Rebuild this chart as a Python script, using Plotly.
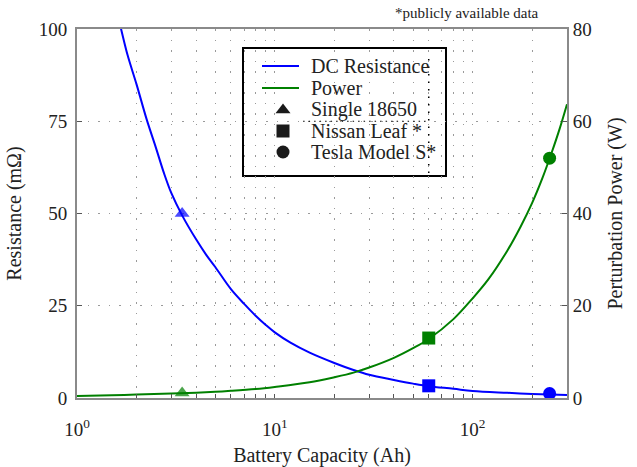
import plotly.graph_objects as go
import numpy as np

# ---------------- data ----------------
capacity_r = [1.6, 1.67, 1.8, 2, 2.25, 2.5, 2.75, 3, 3.4, 4, 4.5, 5, 6, 7, 8, 9, 10, 12, 15,
              20, 25, 30, 40, 50, 60, 80, 100, 150, 200, 300]
resistance = [104, 100, 93, 85, 75.5, 68, 61, 55.5, 49.5, 43, 38.8, 35.5, 29.5, 25.5, 22.3, 19.8,
              17.8, 15, 12.3, 9.5, 7.6, 6.3, 4.9, 3.9, 3.2, 2.5, 1.9, 1.4, 1.1, 0.8]

capacity_p = [1, 1.5, 2, 3, 4, 5, 6, 8, 10, 15, 20, 25, 30, 40, 50, 60, 80, 100, 120, 150,
              175, 200, 225, 250, 275, 300]
power = [0.45, 0.6, 0.75, 0.95, 1.15, 1.35, 1.55, 1.95, 2.4, 3.4, 4.5, 5.5, 6.6, 8.7, 10.8, 12.8,
         17.1, 21.6, 25.7, 32, 37.2, 42.3, 47.6, 53, 58.3, 63.7]

devices = ["Single 18650", "Nissan Leaf *", "Tesla Model S*"]
device_capacity = [3.4, 60, 245]
device_resistance = [50, 3.3, 1.2]
device_power = [1.1, 13.0, 52.0]
device_symbols = ["triangle-up", "square", "circle"]
device_opacity = [0.7, 1.0, 1.0]

series_names = ["DC Resistance", "Power"]

x_major_ticks = [1, 10, 100]
x_major_labels = ["10<sup>0</sup>", "10<sup>1</sup>", "10<sup>2</sup>"]
x_minor_ticks = [2, 3, 4, 5, 6, 7, 8, 9, 20, 30, 40, 50, 60, 70, 80, 90, 200, 300]
y_left_ticks = [0, 25, 50, 75, 100]
y_right_ticks = [0, 20, 40, 60, 80]

BLUE = "#0000FF"
GREEN = "#008000"
FONT = "Liberation Serif"
AXIS_GRAY = "#8a8a8a"
GRID = "#9a9a9a"
TXT = "#222"

# plot area in pixels (for the hand-built legend)
PL, PR, PT, PB = 77, 567, 29, 398
PW, PH = PR - PL, PB - PT


def px(x):
    return (x - PL) / PW


def py(y):
    return (PB - y) / PH


fig = go.Figure()

fig.add_trace(go.Scatter(x=capacity_r, y=resistance, mode="lines", name=series_names[0],
                         line=dict(color=BLUE, width=2, shape="spline", smoothing=1),
                         yaxis="y", showlegend=False))
fig.add_trace(go.Scatter(x=capacity_p, y=power, mode="lines", name=series_names[1],
                         line=dict(color=GREEN, width=2, shape="spline", smoothing=1),
                         yaxis="y2", showlegend=False))

for i, d in enumerate(devices):
    fig.add_trace(go.Scatter(x=[device_capacity[i]], y=[device_resistance[i]], mode="markers",
                             marker=dict(symbol=device_symbols[i], size=13, color=BLUE),
                             opacity=device_opacity[i], showlegend=False, yaxis="y"))
    fig.add_trace(go.Scatter(x=[device_capacity[i]], y=[device_power[i]], mode="markers",
                             marker=dict(symbol=device_symbols[i], size=13, color=GREEN),
                             opacity=device_opacity[i], showlegend=False, yaxis="y2"))

# ---------------- hand-built legend ----------------
LEG_L, LEG_R, LEG_T, LEG_B = 243, 446, 48, 176
row_y = [66, 88, 110, 131, 152]
sample_x0, sample_x1 = 262, 299
symbol_x = 283
text_x = 309

# legend symbols on an invisible pixel-unit overlay axis
fig.add_trace(go.Scatter(x=[symbol_x - PL] * 3, y=[PB - r for r in row_y[2:]], mode="markers",
                         marker=dict(symbol=device_symbols, size=13, color="#1a1a1a"),
                         xaxis="x3", yaxis="y3", showlegend=False, hoverinfo="skip"))

fig.add_shape(type="rect", xref="paper", yref="paper", x0=px(LEG_L), x1=px(LEG_R),
              y0=py(LEG_B), y1=py(LEG_T), fillcolor="white",
              line=dict(color="black", width=2), layer="between")
for c, r in zip([BLUE, GREEN], row_y[:2]):
    fig.add_shape(type="line", xref="paper", yref="paper", x0=px(sample_x0), x1=px(sample_x1),
                  y0=py(r), y1=py(r), line=dict(color=c, width=2), layer="above")
for name, r in zip(series_names + devices, row_y):
    fig.add_annotation(text=name, xref="paper", yref="paper", x=px(text_x), y=py(r),
                       xanchor="left", yanchor="middle", showarrow=False,
                       font=dict(family=FONT, size=20, color=TXT))
# dotted grid fragments visible inside the legend box of the original
fig.add_shape(type="line", xref="x", yref="paper", x0=60, x1=60, y0=py(173), y1=py(56),
              line=dict(color="black", width=1.5, dash="1.5px,6px"), layer="above")
fig.add_shape(type="line", xref="x", yref="y", x0=13.9, x1=60, y0=75, y1=75,
              line=dict(color="black", width=1.2, dash="1.5px,4px"), layer="above")

grid_dash = "1.5px,9px"

fig.update_layout(
    width=637, height=467,
    margin=dict(l=PL, r=637 - PR, t=PT, b=467 - PB, autoexpand=False),
    paper_bgcolor="white", plot_bgcolor="white",
    font=dict(family=FONT, size=19, color=TXT),
    showlegend=False,
    xaxis=dict(type="log", range=[0, np.log10(300)],
               tickmode="array", tickvals=x_major_ticks, ticktext=x_major_labels,
               showgrid=True, gridcolor=GRID, griddash=grid_dash, gridwidth=1,
               minor=dict(tickmode="array", tickvals=x_minor_ticks, showgrid=True,
                          gridcolor=GRID, griddash=grid_dash, gridwidth=1,
                          ticks="inside", ticklen=4, tickcolor="#555", tickwidth=1),
               showline=True, linecolor=AXIS_GRAY, linewidth=2, mirror=True,
               ticks="inside", ticklen=4, tickcolor="#555", tickwidth=1,
               ticklabelstandoff=13, automargin=False,
               title=dict(text="Battery Capacity (Ah)", font=dict(size=20), standoff=9),
               zeroline=False),
    yaxis=dict(range=[0, 100], tickvals=y_left_ticks,
               showgrid=True, gridcolor=GRID, griddash=grid_dash, gridwidth=1,
               showline=True, linecolor=AXIS_GRAY, linewidth=2,
               ticks="inside", ticklen=5, tickcolor="#555",
               ticklabelstandoff=4, automargin=False,
               title=dict(text="Resistance (mΩ)", font=dict(size=20), standoff=12),
               zeroline=False),
    yaxis2=dict(range=[0, 80], tickvals=y_right_ticks, overlaying="y", side="right",
                showgrid=False, showline=True, linecolor=AXIS_GRAY, linewidth=2,
                ticks="inside", ticklen=5, tickcolor="#555",
                ticklabelstandoff=0, automargin=False,
                title=dict(text="Perturbation Power (W)", font=dict(size=20), standoff=17),
                zeroline=False),
    xaxis3=dict(overlaying="x", range=[0, PW], visible=False, fixedrange=True),
    yaxis3=dict(overlaying="y", range=[0, PH], visible=False, fixedrange=True),
)

fig.add_annotation(text="*publicly available data", xref="paper", yref="paper",
                   x=0.796, y=py(13), xanchor="center", yanchor="middle",
                   showarrow=False, font=dict(family=FONT, size=15, color=TXT))

fig.write_html("out.html")
